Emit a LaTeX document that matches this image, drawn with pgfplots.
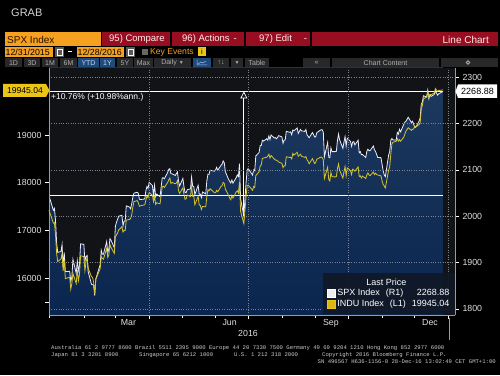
\documentclass[border=0pt]{standalone}
\usepackage{fontspec}
\setmainfont{Liberation Sans}
\newfontfamily\monofont{Liberation Mono}
\usepackage{pgfplots}
\pgfplotsset{compat=1.18}
\usepackage{pgfplotstable}
\usetikzlibrary{arrows.meta}
\definecolor{bbred}{RGB}{150,14,32}
\definecolor{bborange}{RGB}{245,160,30}
\definecolor{bbyellow}{RGB}{214,196,44}
\definecolor{bbgold}{RGB}{236,196,22}
\definecolor{fillTop}{RGB}{30,58,94}
\definecolor{fillBot}{RGB}{10,38,80}
\definecolor{bgc}{RGB}{18,19,22}
\definecolor{gridc}{RGB}{125,130,140}
\definecolor{axisc}{RGB}{150,155,165}
\definecolor{btn}{RGB}{40,40,42}
\definecolor{btntext}{RGB}{175,175,175}
\definecolor{btnblue}{RGB}{30,76,122}
\definecolor{ticktext}{RGB}{225,225,225}
\definecolor{legbg}{RGB}{16,24,38}
\newcommand\fs[1]{\fontsize{#1}{#1}\selectfont}

\pgfplotstableread{
d spx indu
0 2043.94 17425.03
4 2012.66 17148.94
5 2016.71 17158.66
6 1990.26 16906.51
7 1943.09 16514.10
8 1922.03 16346.45
11 1923.67 16398.57
12 1938.68 16516.22
13 1890.28 16151.41
14 1921.84 16379.05
15 1880.33 15988.08
19 1881.33 16016.02
20 1859.33 15766.74
21 1868.99 15882.68
22 1906.90 16093.51
25 1877.08 15885.22
26 1903.63 16167.23
27 1882.95 15944.46
28 1893.36 16069.64
29 1940.24 16466.30
32 1939.38 16449.18
33 1903.03 16153.54
34 1912.53 16336.66
35 1915.45 16416.58
36 1880.05 16204.97
39 1853.44 16027.05
40 1852.21 16014.38
41 1851.86 15914.74
42 1829.08 15660.18
43 1864.78 15973.84
47 1895.58 16196.41
48 1926.82 16453.83
49 1917.83 16413.43
50 1917.78 16391.99
53 1945.50 16620.66
54 1921.27 16431.78
55 1929.80 16484.99
56 1951.70 16697.29
57 1948.05 16639.97
60 1932.23 16516.50
61 1978.35 16865.08
62 1986.45 16899.32
63 1993.40 16943.90
64 1999.99 17006.77
67 2001.76 17073.95
68 1979.26 16964.10
69 1989.26 17000.36
70 1989.57 16995.13
71 2022.19 17213.31
74 2019.64 17229.13
75 2015.93 17251.53
76 2027.22 17325.76
77 2040.59 17481.49
78 2049.58 17602.30
81 2051.60 17623.87
82 2049.80 17582.57
83 2036.71 17502.59
84 2035.94 17515.73
88 2037.05 17535.39
89 2055.01 17633.11
90 2063.95 17716.66
91 2059.74 17685.09
92 2072.78 17792.75
95 2066.13 17737.00
96 2045.17 17603.32
97 2066.66 17716.05
98 2041.91 17541.96
99 2047.60 17576.96
102 2041.99 17556.41
103 2061.72 17721.25
104 2082.42 17908.28
105 2082.78 17926.43
106 2080.73 17897.46
109 2094.34 18004.16
110 2100.80 18053.60
111 2102.40 18096.27
112 2091.48 17982.52
113 2091.58 18003.75
116 2087.79 17977.24
117 2091.70 17990.32
118 2095.15 18041.55
119 2075.81 17830.76
120 2065.30 17773.64
123 2081.43 17891.16
124 2063.37 17750.91
125 2051.12 17651.26
126 2050.63 17660.71
127 2057.14 17740.63
130 2058.69 17705.91
131 2084.39 17928.35
132 2064.46 17711.12
133 2064.11 17720.50
134 2046.61 17535.32
137 2066.66 17710.71
138 2047.21 17529.98
139 2047.63 17526.62
140 2040.04 17435.40
141 2052.32 17500.94
144 2048.04 17492.93
145 2076.06 17706.05
146 2090.54 17851.51
147 2090.10 17828.29
148 2099.06 17873.22
152 2096.95 17787.20
153 2099.33 17789.67
154 2105.26 17838.56
155 2099.13 17807.06
158 2109.41 17920.33
159 2112.13 17938.28
160 2119.12 18005.05
161 2115.48 17985.19
162 2096.07 17865.34
165 2079.06 17732.48
166 2075.32 17674.82
167 2071.50 17640.17
168 2077.99 17733.10
169 2071.22 17675.16
172 2083.25 17804.87
173 2088.90 17829.73
174 2085.45 17780.83
175 2113.32 18011.07
176 2037.41 17400.75
179 2000.54 17140.24
180 2036.09 17409.72
181 2070.77 17694.68
182 2098.86 17929.99
183 2102.95 17949.37
187 2088.55 17840.62
188 2099.73 17918.62
189 2097.90 17895.88
190 2129.90 18146.74
193 2137.16 18226.93
194 2152.14 18347.67
195 2152.43 18372.12
196 2163.75 18506.41
197 2161.74 18516.55
200 2166.89 18533.05
201 2163.78 18559.01
202 2173.02 18595.03
203 2165.17 18517.23
204 2175.03 18570.85
207 2168.48 18493.06
208 2169.18 18473.75
209 2166.58 18472.17
210 2170.06 18456.35
211 2173.60 18432.24
214 2170.84 18404.51
215 2157.03 18313.77
216 2163.79 18355.00
217 2164.25 18352.05
218 2182.87 18543.53
221 2180.89 18529.29
222 2181.74 18533.05
223 2175.49 18495.66
224 2185.79 18613.52
225 2184.05 18576.47
228 2190.15 18636.05
229 2178.15 18552.02
230 2182.22 18573.94
231 2187.02 18597.70
232 2183.87 18552.57
235 2182.64 18529.42
236 2186.90 18547.30
237 2175.44 18481.48
238 2172.47 18448.41
239 2169.04 18395.40
242 2180.38 18502.99
243 2176.12 18454.30
244 2170.95 18400.88
245 2170.86 18419.30
246 2179.98 18491.96
250 2186.48 18538.12
251 2186.16 18526.14
252 2181.30 18479.91
253 2127.81 18085.45
256 2159.04 18325.07
257 2127.02 18066.75
258 2125.77 18034.77
259 2147.26 18212.48
260 2139.16 18123.80
263 2139.12 18120.17
264 2139.76 18129.96
265 2163.12 18293.70
266 2177.18 18392.46
267 2164.69 18261.45
270 2146.10 18094.83
271 2159.93 18228.30
272 2171.37 18339.24
273 2151.13 18143.45
274 2168.27 18308.15
277 2161.20 18253.85
278 2150.49 18168.45
279 2159.73 18281.03
280 2160.77 18268.50
281 2153.74 18240.49
284 2163.66 18329.04
285 2136.73 18128.66
286 2139.18 18144.20
287 2132.55 18098.94
288 2132.98 18138.38
291 2126.50 18086.40
292 2139.60 18161.94
293 2144.29 18202.62
294 2141.34 18162.35
295 2141.16 18145.71
298 2151.33 18223.03
299 2143.16 18169.27
300 2139.43 18199.33
301 2133.04 18169.68
302 2126.41 18161.19
305 2126.15 18142.42
306 2111.72 18037.10
307 2097.94 17959.64
308 2088.66 17930.67
309 2085.18 17888.28
312 2131.52 18259.60
313 2139.56 18332.74
314 2163.26 18589.69
315 2167.48 18807.88
316 2164.45 18847.66
319 2164.20 18868.69
320 2180.39 18923.06
321 2176.94 18868.14
322 2187.12 18903.82
323 2181.90 18867.93
326 2198.18 18956.69
327 2202.94 19023.87
328 2204.72 19083.18
330 2213.35 19152.14
333 2201.72 19097.90
334 2204.66 19121.60
335 2198.81 19123.58
336 2191.08 19191.93
337 2191.95 19170.42
340 2204.71 19216.24
341 2212.23 19251.78
342 2241.35 19549.62
343 2246.19 19614.81
344 2259.53 19756.85
347 2256.96 19796.43
348 2271.72 19911.21
349 2253.28 19792.53
350 2262.03 19852.24
351 2258.07 19843.41
354 2262.53 19883.06
355 2270.76 19974.62
356 2265.18 19941.96
357 2260.96 19918.88
358 2263.79 19933.81
362 2268.88 19945.04
}\data

\begin{document}
\begin{tikzpicture}
\fill[black] (0,0) rectangle (500pt,375pt);

% ---------- axis A: gradient under the SPX line ----------
\begin{axis}[
  at={(49pt,60pt)}, anchor=south west, scale only axis,
  width=406pt, height=247pt,
  xmin=0, xmax=373, ymin=1787, ymax=2319.4,
  hide axis, clip=true,
]
\fill[top color=fillTop, bottom color=fillBot] (axis cs:0,1787) rectangle (axis cs:362,2319.4);
\fill[bgc] (axis cs:362,1787) rectangle (axis cs:373,2319.4);
\end{axis}

% ---------- axis C: SPX (right axis), dark area above the line, grid, x axis ----------
\begin{axis}[
  at={(49pt,60pt)}, anchor=south west, scale only axis,
  width=406pt, height=247pt,
  xmin=0, xmax=373, ymin=1787, ymax=2319.4,
  axis y line*=right, axis x line*=bottom,
  axis line style={draw=axisc, line width=0.6pt, -},
  ytick={1800,1900,2000,2100,2200,2300},
  ymajorgrids, xmajorgrids,
  major grid style={dotted, draw=gridc, line width=0.5pt},
  xtick={92,183,275,367}, xticklabels={},
  minor xtick={0,32,61,122,153,214,245,306,336},
  extra x ticks={73,166,259,350},
  extra x tick labels={Mar,Jun,Sep,Dec},
  extra x tick style={major tick length=0pt, grid=none},
  tick align=outside, major tick length=4pt, minor tick length=3pt,
  tick style={draw=white, line width=0.5pt},
  yticklabel style={font=\fs{8.8}, text=ticktext},
  xticklabel style={font=\fs{8.8}, text=ticktext, yshift=-1pt},
  scaled y ticks=false,
  /pgf/number format/1000 sep={},
  /pgf/number format/assume math mode=true,
  axis on top, clip=true,
]
\addplot[draw=none, fill=bgc, forget plot] table[x=d, y=spx] {\data} |- (axis cs:0,2319.4) -- cycle;
\addplot[color=white, line width=0.7pt] coordinates {(0,2043.94) (362,2043.94)};
\addplot[color=white, line width=0.7pt] coordinates {(0,2268.88) (362,2268.88)};
\addplot[color=white, line width=0.7pt, -{Triangle[open, length=7pt, width=7pt]}] coordinates {(179,2000.54) (179,2268.88)};
\addplot[color=white!92!blue, line width=0.8pt] table[x=d, y=spx] {\data};
\end{axis}

% ---------- axis B: INDU, left axis, legend ----------
\begin{axis}[
  at={(49pt,60pt)}, anchor=south west, scale only axis,
  width=406pt, height=247pt,
  xmin=0, xmax=373, ymin=15224, ymax=20405,
  axis y line*=left, axis x line=none,
  axis line style={draw=axisc, line width=0.6pt, -},
  ytick={16000,17000,18000,19000},
  extra y ticks={15500}, extra y tick labels={},
  tick align=outside, major tick length=4pt,
  tick style={draw=white, line width=0.5pt},
  yticklabel style={font=\fs{8.8}, text=ticktext},
  scaled y ticks=false,
  /pgf/number format/1000 sep={},
  /pgf/number format/assume math mode=true,
  clip=false,
  legend image code/.code={\fill[#1] (0pt,-4pt) rectangle (8pt,4pt);},
  legend style={at={(1,0)}, anchor=south east, yshift=1pt,
    fill=legbg, fill opacity=0.92, text opacity=1, draw=none,
    text=white, font=\fs{9},
    inner xsep=4pt, inner ysep=5pt,
    row sep=1.5pt,
    nodes={inner ysep=0.6pt, inner xsep=1.5pt}},
  legend cell align=left,
]
\addlegendimage{empty legend}
\addlegendentry{\makebox[112pt][c]{\hspace*{-14pt}Last Price}}
\addlegendimage{color=white}
\addlegendentry{\makebox[112pt][l]{SPX Index\hspace{6pt}(R1)\hfill 2268.88}}
\addlegendimage{color=bbgold}
\addlegendentry{\makebox[112pt][l]{INDU Index\hspace{6pt}(L1)\hfill 19945.04}}
\addplot[color=bbyellow, line width=0.8pt, forget plot] table[x=d, y=indu] {\data};
\end{axis}

% ---------- frame decorations in image coordinates ----------
\begin{scope}[shift={(0,375pt)}, x=1pt, y=-1pt]
\node[anchor=west, text=white!82!black, font=\fs{11}, inner sep=0] at (11,13) {GRAB};
% row 1
\fill[bborange] (5,32) rectangle (101,46);
\fill[bbred] (102,32) rectangle (170,46);
\fill[bbred] (172,32) rectangle (244,46);
\fill[bbred] (246,32) rectangle (310,46);
\fill[bbred] (312,32) rectangle (498,46);
\node[anchor=west, inner sep=0, font=\fs{10}, text=black!85!orange] at (7,39.5) {SPX Index};
\node[anchor=west, inner sep=0, font=\fs{9.5}, text=white!92!red] at (109,39.5) {95) Compare};
\node[anchor=west, inner sep=0, font=\fs{9.5}, text=white!92!red] at (182,39.5) {96) Actions\hspace{4pt}-};
\node[anchor=west, inner sep=0, font=\fs{9.5}, text=white!92!red] at (259,39.5) {97) Edit\hspace{12pt}-};
\node[anchor=east, inner sep=0, font=\fs{10}, text=white!92!red] at (489,39.5) {Line Chart};
% row 2
\fill[bborange] (5,47) rectangle (53,57);
\node[anchor=west, inner sep=0, font=\fs{8.8}, text=black] at (5.5,52.3) {12/31/2015};
\fill[black!65] (55,47) rectangle (64,57);
\draw[white, line width=0.5pt] (57,49.5) rectangle (62,55);
\fill[white] (68,51.5) rectangle (72,52.5);
\fill[bborange] (77,47) rectangle (124,57);
\node[anchor=west, inner sep=0, font=\fs{8.8}, text=black] at (77.5,52.3) {12/28/2016};
\fill[black!65] (126,47) rectangle (135,57);
\draw[white, line width=0.5pt] (128,49.5) rectangle (133,55);
\fill[black!60] (142,49) rectangle (148,55);
\node[anchor=west, inner sep=0, font=\fs{8.6}, text=bborange] at (150,52.3) {Key Events};
\fill[bbgold] (198,47.5) rectangle (206,56.5);
\node[anchor=center, inner sep=0, font=\fs{7.5}, text=black] at (202,52) {i};
% row 3 buttons
\foreach \a/\b/\t in {5/22/1D, 24/40/3D, 42/58/1M, 60/77/6M, 117/133/5Y, 134/153/Max, 213/229/↑↓, 231/243/{\fs{5}▼}, 245/269/Table, 303/330/«, 441/498/{}}
  {\fill[btn] (\a,58) rectangle (\b,67);
   \node[anchor=center, inner sep=0, font=\fs{7}, text=btntext] at ({(\a+\b)/2},62.7) {\t};}
\fill[btn] (154,58) rectangle (191,67);
\node[anchor=center, inner sep=0, font=\fs{7}, text=btntext] at (172.5,62.7) {Daily {\fs{5}▼}};
\fill[btn] (332,58) rectangle (439,67);
\node[anchor=center, inner sep=0, font=\fs{7}, text=btntext] at (385.5,62.7) {Chart Content};
\fill[btnblue] (78,58) rectangle (99,67);
\node[anchor=center, inner sep=0, font=\fs{7}, text=white!80!blue] at (88.5,62.7) {YTD};
\fill[btnblue] (100,58) rectangle (115,67);
\node[anchor=center, inner sep=0, font=\fs{7}, text=white!80!blue] at (107.5,62.7) {1Y};
\fill[btnblue] (193,58) rectangle (211,67);
\draw[white!70!blue, line width=0.5pt] (197,65) -- (197,60) (197,65) -- (207,65) (198,64) -- (201,62) -- (203,63) -- (206,61);
\draw[btntext, line width=0.8pt] (468,62.5) circle (1.8pt);
% annotation text
\node[anchor=west, inner sep=0, font=\fs{8.5}, text=white] at (51,97.5) {+10.76\% (+10.98\%ann.)};
% value tags
\fill[bbgold] (3,84) -- (46,84) -- (49.5,90.5) -- (46,97) -- (3,97) -- cycle;
\node[anchor=center, inner sep=0, font=\fs{8.6}, text=black] at (25,90.7) {19945.04};
\fill[white] (458,84.5) -- (497,84.5) -- (497,98) -- (458,98) -- (455.5,91.3) -- cycle;
\node[anchor=center, inner sep=0, font=\fs{9}, text=black] at (477.5,91.4) {2268.88};
% year label and long tick
\draw[axisc, line width=0.6pt] (449,318) -- (449,340);
\node[anchor=center, inner sep=0, font=\fs{8.8}, text=ticktext] at (248,333.5) {2016};
% footer
\node[anchor=west, inner sep=0, font=\monofont\fs{5.6}, text=white!80!black] at (51,348) {Australia 61 2 9777 8600 Brazil 5511 2395 9000 Europe 44 20 7330 7500 Germany 49 69 9204 1210 Hong Kong 852 2977 6000};
\node[anchor=west, inner sep=0, font=\monofont\fs{5.6}, text=white!80!black] at (51,355) {Japan 81 3 3201 8900};
\node[anchor=west, inner sep=0, font=\monofont\fs{5.6}, text=white!80!black] at (139,355) {Singapore 65 6212 1000};
\node[anchor=west, inner sep=0, font=\monofont\fs{5.6}, text=white!80!black] at (234,355) {U.S. 1 212 318 2000};
\node[anchor=west, inner sep=0, font=\monofont\fs{5.6}, text=white!80!black] at (322,355) {Copyright 2016 Bloomberg Finance L.P.};
\node[anchor=east, inner sep=0, font=\monofont\fs{5.6}, text=white!80!black] at (496,362) {SN 496567 H636-1156-0 28-Dec-16 13:02:49 CET  GMT+1:00};
\end{scope}
\end{tikzpicture}
\end{document}
